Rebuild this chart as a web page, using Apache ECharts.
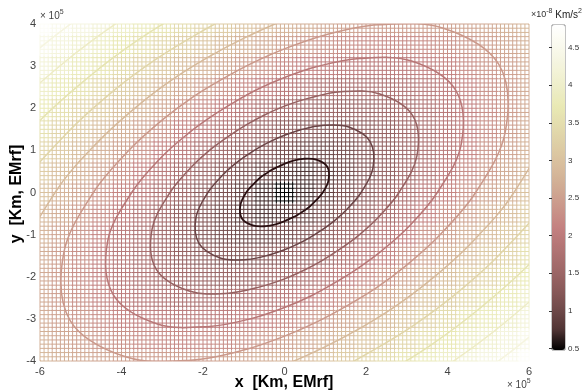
<!DOCTYPE html>
<html><head><meta charset="utf-8">
<script src="https://cdn.jsdelivr.net/npm/echarts/dist/echarts.min.js"></script>
<style>html,body{margin:0;padding:0;background:#fff}#c{width:586px;height:392px}</style>
</head><body><div id="c"></div>
<script>
// ---------- data (x, y in 1e5 km; field in 1e-8 km/s^2) ----------
const xNodes = [-6,-5.5,-5,-4.5,-4,-3.5,-3,-2.5,-2,-1.5,-1,-0.5,0,0.5,1,1.5,2,2.5,3,3.5,4,4.5,5,5.5,6];
const yNodes = [-4,-3.5,-3,-2.5,-2,-1.5,-1,-0.5,0,0.5,1,1.5,2,2.5,3,3.5,4];
// one row per y node (bottom to top), one value per x node
const fieldRows = [
  [2.84,2.73,2.63,2.56,2.50,2.46,2.44,2.45,2.48,2.53,2.60,2.68,2.78,2.90,3.03,3.17,3.32,3.47,3.63,3.80,3.97,4.14,4.32,4.50,4.69],
  [2.73,2.60,2.49,2.39,2.30,2.24,2.21,2.20,2.21,2.25,2.31,2.40,2.50,2.61,2.74,2.89,3.04,3.20,3.36,3.53,3.71,3.89,4.07,4.26,4.44],
  [2.66,2.51,2.37,2.25,2.14,2.05,1.99,1.96,1.95,1.98,2.03,2.11,2.21,2.33,2.46,2.61,2.76,2.93,3.10,3.27,3.45,3.64,3.82,4.01,4.20],
  [2.62,2.45,2.30,2.15,2.01,1.90,1.80,1.74,1.71,1.71,1.75,1.82,1.92,2.04,2.18,2.33,2.49,2.66,2.84,3.02,3.20,3.39,3.58,3.78,3.97],
  [2.63,2.44,2.26,2.09,1.93,1.79,1.66,1.56,1.49,1.46,1.48,1.54,1.63,1.75,1.90,2.06,2.22,2.40,2.58,2.77,2.96,3.16,3.35,3.55,3.75],
  [2.67,2.47,2.28,2.09,1.91,1.73,1.57,1.43,1.31,1.24,1.22,1.26,1.34,1.47,1.62,1.79,1.97,2.15,2.34,2.54,2.73,2.93,3.13,3.33,3.54],
  [2.74,2.54,2.34,2.14,1.94,1.74,1.55,1.37,1.21,1.07,0.98,0.98,1.06,1.19,1.35,1.53,1.72,1.92,2.11,2.32,2.52,2.72,2.93,3.13,3.34],
  [2.85,2.65,2.44,2.23,2.02,1.82,1.61,1.41,1.21,1.02,0.84,0.73,0.77,0.92,1.10,1.30,1.50,1.70,1.91,2.12,2.32,2.53,2.74,2.95,3.16],
  [2.99,2.78,2.57,2.36,2.16,1.95,1.74,1.53,1.32,1.11,0.90,0.69,0.48,0.69,0.90,1.11,1.32,1.53,1.74,1.95,2.16,2.36,2.57,2.78,2.99],
  [3.16,2.95,2.74,2.53,2.32,2.12,1.91,1.70,1.50,1.30,1.10,0.92,0.77,0.73,0.84,1.02,1.21,1.41,1.61,1.82,2.02,2.23,2.44,2.65,2.85],
  [3.34,3.13,2.93,2.72,2.52,2.32,2.11,1.92,1.72,1.53,1.35,1.19,1.06,0.98,0.98,1.07,1.21,1.37,1.55,1.74,1.94,2.14,2.34,2.54,2.74],
  [3.54,3.33,3.13,2.93,2.73,2.54,2.34,2.15,1.97,1.79,1.62,1.47,1.34,1.26,1.22,1.24,1.31,1.43,1.57,1.73,1.91,2.09,2.28,2.47,2.67],
  [3.75,3.55,3.35,3.16,2.96,2.77,2.58,2.40,2.22,2.06,1.90,1.75,1.63,1.54,1.48,1.46,1.49,1.56,1.66,1.79,1.93,2.09,2.26,2.44,2.63],
  [3.97,3.78,3.58,3.39,3.20,3.02,2.84,2.66,2.49,2.33,2.18,2.04,1.92,1.82,1.75,1.71,1.71,1.74,1.80,1.90,2.01,2.15,2.30,2.45,2.62],
  [4.20,4.01,3.82,3.64,3.45,3.27,3.10,2.93,2.76,2.61,2.46,2.33,2.21,2.11,2.03,1.98,1.95,1.96,1.99,2.05,2.14,2.25,2.37,2.51,2.66],
  [4.44,4.26,4.07,3.89,3.71,3.53,3.36,3.20,3.04,2.89,2.74,2.61,2.50,2.40,2.31,2.25,2.21,2.20,2.21,2.24,2.30,2.39,2.49,2.60,2.73],
  [4.69,4.50,4.32,4.14,3.97,3.80,3.63,3.47,3.32,3.17,3.03,2.90,2.78,2.68,2.60,2.53,2.48,2.45,2.44,2.46,2.50,2.56,2.63,2.73,2.84]
];
// ten contour lines (innermost to outermost)
const contourLevels = [0.87,1.27,1.66,2.05,2.45,2.84,3.23,3.62,4.02,4.41];
const contour_01 = [[0.94,0],[1.08,0.29],[1.05,0.61],[0.78,0.78],[0.46,0.80],[0.20,0.75],[0,0.68],[-0.16,0.61],[-0.31,0.54],[-0.45,0.45],[-0.60,0.35],[-0.76,0.20],[-0.94,0],[-1.08,-0.29],[-1.05,-0.61],[-0.78,-0.78],[-0.46,-0.80],[-0.20,-0.75],[0,-0.68],[0.16,-0.61],[0.31,-0.54],[0.45,-0.45],[0.60,-0.35],[0.76,-0.20]];
const contour_02 = [[1.88,0],[2.17,0.58],[2.10,1.21],[1.56,1.56],[0.92,1.59],[0.40,1.49],[0,1.36],[-0.33,1.22],[-0.62,1.07],[-0.90,0.90],[-1.20,0.69],[-1.52,0.41],[-1.88,0],[-2.17,-0.58],[-2.10,-1.21],[-1.56,-1.56],[-0.92,-1.59],[-0.40,-1.49],[0,-1.36],[0.33,-1.22],[0.62,-1.07],[0.90,-0.90],[1.20,-0.69],[1.52,-0.41]];
const contour_03 = [[2.81,0],[3.25,0.87],[3.15,1.82],[2.34,2.34],[1.38,2.39],[0.60,2.24],[0,2.05],[-0.49,1.84],[-0.93,1.61],[-1.35,1.35],[-1.79,1.04],[-2.28,0.61],[-2.81,0],[-3.25,-0.87],[-3.15,-1.82],[-2.34,-2.34],[-1.38,-2.39],[-0.60,-2.24],[0,-2.05],[0.49,-1.84],[0.93,-1.61],[1.35,-1.35],[1.79,-1.04],[2.28,-0.61]];
const contour_04 = [[3.75,0],[4.34,1.16],[4.20,2.43],[3.12,3.12],[1.84,3.18],[0.80,2.99],[0,2.73],[-0.66,2.45],[-1.24,2.14],[-1.80,1.80],[-2.39,1.38],[-3.04,0.82],[-3.75,0],[-4.34,-1.16],[-4.20,-2.43],[-3.12,-3.12],[-1.84,-3.18],[-0.80,-2.99],[0,-2.73],[0.66,-2.45],[1.24,-2.14],[1.80,-1.80],[2.39,-1.38],[3.04,-0.82]];
const contour_05 = [[4.69,0],[5.42,1.45],[5.26,3.04],[3.90,3.90],[2.30,3.98],[1.00,3.74],[0,3.41],[-0.82,3.06],[-1.55,2.68],[-2.26,2.26],[-2.99,1.73],[-3.80,1.02],[-4.69,0],[-5.42,-1.45],[-5.26,-3.04],[-3.90,-3.90],[-2.30,-3.98],[-1.00,-3.74],[0,-3.41],[0.82,-3.06],[1.55,-2.68],[2.26,-2.26],[2.99,-1.73],[3.80,-1.02]];
const contour_06 = [[5.63,0],[6.50,1.74],[6.31,3.64],[4.67,4.67],[2.75,4.77],[1.20,4.48],[0,4.09],[-0.98,3.67],[-1.86,3.22],[-2.71,2.71],[-3.59,2.07],[-4.56,1.22],[-5.63,0],[-6.50,-1.74],[-6.31,-3.64],[-4.67,-4.67],[-2.75,-4.77],[-1.20,-4.48],[0,-4.09],[0.98,-3.67],[1.86,-3.22],[2.71,-2.71],[3.59,-2.07],[4.56,-1.22]];
const contour_07 = [[6.57,0],[7.59,2.03],[7.36,4.25],[5.45,5.45],[3.21,5.57],[1.40,5.23],[0,4.77],[-1.15,4.28],[-2.17,3.75],[-3.16,3.16],[-4.19,2.42],[-5.32,1.43],[-6.57,0],[-7.59,-2.03],[-7.36,-4.25],[-5.45,-5.45],[-3.21,-5.57],[-1.40,-5.23],[0,-4.77],[1.15,-4.28],[2.17,-3.75],[3.16,-3.16],[4.19,-2.42],[5.32,-1.43]];
const contour_08 = [[7.50,0],[8.67,2.32],[8.41,4.86],[6.23,6.23],[3.67,6.36],[1.60,5.98],[0,5.46],[-1.31,4.90],[-2.48,4.29],[-3.61,3.61],[-4.78,2.76],[-6.08,1.63],[-7.50,0],[-8.67,-2.32],[-8.41,-4.86],[-6.23,-6.23],[-3.67,-6.36],[-1.60,-5.98],[0,-5.46],[1.31,-4.90],[2.48,-4.29],[3.61,-3.61],[4.78,-2.76],[6.08,-1.63]];
const contour_09 = [[8.44,0],[9.76,2.61],[9.46,5.46],[7.01,7.01],[4.13,7.16],[1.80,6.72],[0,6.14],[-1.48,5.51],[-2.79,4.82],[-4.06,4.06],[-5.38,3.11],[-6.84,1.84],[-8.44,0],[-9.76,-2.61],[-9.46,-5.46],[-7.01,-7.01],[-4.13,-7.16],[-1.80,-6.72],[0,-6.14],[1.48,-5.51],[2.79,-4.82],[4.06,-4.06],[5.38,-3.11],[6.84,-1.84]];
const contour_10 = [[9.38,0],[10.84,2.90],[10.51,6.07],[7.79,7.79],[4.59,7.95],[2.00,7.47],[0,6.82],[-1.64,6.12],[-3.10,5.36],[-4.51,4.51],[-5.98,3.45],[-7.60,2.04],[-9.38,0],[-10.84,-2.90],[-10.51,-6.07],[-7.79,-7.79],[-4.59,-7.95],[-2.00,-7.47],[0,-6.82],[1.64,-6.12],[3.10,-5.36],[4.51,-4.51],[5.98,-3.45],[7.60,-2.04]];
const contours = [contour_01,contour_02,contour_03,contour_04,contour_05,contour_06,contour_07,contour_08,contour_09,contour_10];
const xTicks = [-6,-4,-2,0,2,4,6];
const yTicks = [-4,-3,-2,-1,0,1,2,3,4];
const colorbarTicks = [0.5,1,1.5,2,2.5,3,3.5,4,4.5];
const fieldMin = 0.48, fieldMax = 4.8;

// ---------- styling ----------
const pink = ['#000000','#503434','#704a4a','#8a5a5a','#9f6868','#b27474','#c38080','#ca968a','#d0aa93','#d7bc9c','#ddcca4','#e3dbad','#e9e9b4','#eeeeca','#f4f4dd','#fafaee','#ffffff'];
const contourColors = ['#2a1012','#6a4446','#966262','#b87878','#ca998b','#d6ba9b','#e1d6aa','#e6e4b2','#eeecc6','#f6f5e0'];
const G = {left:40, top:24, width:489, height:337};
const X_MIN=-6, X_MAX=6, Y_MIN=-4, Y_MAX=4;
const nodeStep = 0.5, meshStep = 0.1;

const meshData = [];
yNodes.forEach((y,j)=>xNodes.forEach((x,i)=>meshData.push([x,y,fieldRows[j][i]])));

function renderMesh(params, api){
  const x = api.value(0), y = api.value(1);
  const x0 = Math.max(X_MIN, x-nodeStep/2), x1 = Math.min(X_MAX, x+nodeStep/2);
  const y0 = Math.max(Y_MIN, y-nodeStep/2), y1 = Math.min(Y_MAX, y+nodeStep/2);
  const color = api.visual('color');
  const a = api.coord([x0,y0]), b = api.coord([x1,y1]);
  const ch = [];
  for (let k=Math.ceil(x0/meshStep-1e-6); k*meshStep<=x1+1e-6; k++){
    const px = api.coord([k*meshStep,0])[0];
    ch.push({type:'line', shape:{x1:px,y1:a[1],x2:px,y2:b[1]}, style:{stroke:color,lineWidth:1}});
  }
  for (let k=Math.ceil(y0/meshStep-1e-6); k*meshStep<=y1+1e-6; k++){
    const py = api.coord([0,k*meshStep])[1];
    ch.push({type:'line', shape:{x1:a[0],y1:py,x2:b[0],y2:py}, style:{stroke:color,lineWidth:1}});
  }
  return {type:'group', children:ch, silent:true};
}

function renderContour(params, api){
  const i = api.value(0);
  const pts = contours[i].map(p=>api.coord(p));
  return {type:'polygon', shape:{points:pts, smooth:0.35}, silent:true,
          style:{fill:'none', stroke:contourColors[i], lineWidth:i===0?1.8:1.5}};
}

const lblFont = '"Liberation Sans", Arial, sans-serif';

const chart = echarts.init(document.getElementById('c'));
chart.setOption({
  animation:false,
  grid:[
    {left:G.left, top:G.top, width:G.width, height:G.height},
    {left:552, top:25, width:13, height:325, show:true, borderColor:'#888', borderWidth:1, backgroundColor:'transparent'}
  ],
  xAxis:[
    {type:'value', gridIndex:0, min:X_MIN, max:X_MAX, interval:2,
     axisLine:{show:false}, axisTick:{show:false}, splitLine:{show:false},
     axisLabel:{color:'#444', fontSize:11, fontFamily:lblFont, margin:5, customValues:xTicks}},
    {type:'value', gridIndex:1, min:0, max:1, show:false}
  ],
  yAxis:[
    {type:'value', gridIndex:0, min:Y_MIN, max:Y_MAX, interval:1,
     axisLine:{show:false}, axisTick:{show:false}, splitLine:{show:false},
     axisLabel:{color:'#444', fontSize:11, fontFamily:lblFont, margin:4, customValues:yTicks}},
    {type:'value', gridIndex:1, min:fieldMin, max:fieldMax, position:'right',
     axisLine:{show:false}, splitLine:{show:false},
     axisTick:{show:true, inside:true, length:3, lineStyle:{color:'#333'}, customValues:colorbarTicks},
     axisLabel:{color:'#333', fontSize:8, fontFamily:lblFont, margin:3, customValues:colorbarTicks}},
    {type:'value', gridIndex:1, min:fieldMin, max:fieldMax, position:'left',
     axisLine:{show:false}, splitLine:{show:false}, axisLabel:{show:false},
     axisTick:{show:true, inside:true, length:3, lineStyle:{color:'#333'}, customValues:colorbarTicks}}
  ],
  visualMap:{type:'continuous', min:fieldMin, max:fieldMax, dimension:2, seriesIndex:0,
    inRange:{color:pink}, calculable:false, left:552, top:25, itemWidth:13, itemHeight:325,
    padding:0, text:null, show:true, z:1},
  series:[
    {type:'custom', renderItem:renderMesh, data:meshData, xAxisIndex:0, yAxisIndex:0, silent:true, z:2},
    {type:'custom', renderItem:renderContour, data:contourLevels.map((l,i)=>[i,l]), xAxisIndex:0, yAxisIndex:0, silent:true, clip:true, z:5}
  ],
  graphic:[
    {type:'text', x:40, y:16, style:{text:'{a|× 10}{s|5}', rich:{a:{fontSize:10,fill:'#444',fontFamily:lblFont}, s:{fontSize:7,fill:'#444',fontFamily:lblFont,padding:[0,0,8,0]}}, verticalAlign:'middle'}},
    {type:'text', x:507, y:385, style:{text:'{a|× 10}{s|5}', rich:{a:{fontSize:10,fill:'#444',fontFamily:lblFont}, s:{fontSize:7,fill:'#444',fontFamily:lblFont,padding:[0,0,8,0]}}, verticalAlign:'middle'}},
    {type:'text', x:531, y:15, style:{text:'{a|×10}{s|-8}{b| Km/s}{s|2}', rich:{a:{fontSize:9,fill:'#333',fontFamily:lblFont}, b:{fontSize:10,fill:'#222',fontFamily:lblFont}, s:{fontSize:7,fill:'#333',fontFamily:lblFont,padding:[0,0,8,0]}}, verticalAlign:'middle'}},
    {type:'text', x:284, y:383, style:{text:'x  [Km, EMrf]', font:'bold 16px "Liberation Sans", Arial, sans-serif', fill:'#000', align:'center', verticalAlign:'middle'}},
    {type:'text', x:17, y:194, rotation:Math.PI/2, style:{text:'y  [Km, EMrf]', font:'bold 16px "Liberation Sans", Arial, sans-serif', fill:'#000', align:'center', verticalAlign:'middle'}}
  ]
});
</script></body></html>
